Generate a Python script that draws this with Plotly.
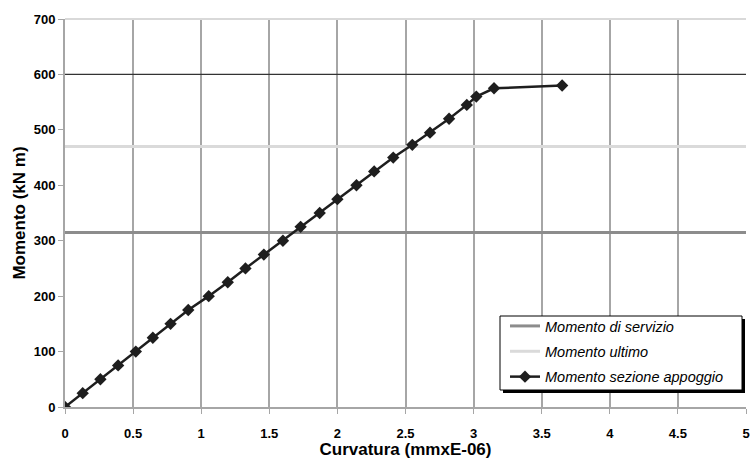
import plotly.graph_objects as go

# Data
curv = [0, 0.13, 0.26, 0.39, 0.52, 0.645, 0.775, 0.905, 1.055, 1.195, 1.325, 1.46, 1.6,
        1.73, 1.87, 2.0, 2.14, 2.27, 2.41, 2.55, 2.68, 2.82, 2.95, 3.02, 3.15, 3.65]
momento = [0, 25, 50, 75, 100, 125, 150, 175, 200, 225, 250, 275, 300,
           325, 350, 375, 400, 425, 450, 473, 495, 520, 545, 560, 575, 580]
x_range = [0, 5]
m_servizio = 315
m_ultimo = 470
m_ref = 600
x_ticks = [0, 0.5, 1, 1.5, 2, 2.5, 3, 3.5, 4, 4.5, 5]
x_ticklabels = ["0", "0.5", "1", "1.5", "2", "2.5", "3", "3.5", "4", "4.5", "5"]
y_ticks = [0, 100, 200, 300, 400, 500, 600, 700]

fig = go.Figure()
fig.add_trace(go.Scatter(x=x_range, y=[m_ref, m_ref], mode="lines",
                         line=dict(color="#333333", width=1.2), showlegend=False, hoverinfo="skip"))
fig.add_trace(go.Scatter(x=x_range, y=[m_servizio, m_servizio], mode="lines", name="Momento di servizio",
                         line=dict(color="#8c8c8c", width=3), legendgroup="a"))
fig.add_trace(go.Scatter(x=x_range, y=[m_ultimo, m_ultimo], mode="lines", name="Momento ultimo",
                         line=dict(color="#dadada", width=3), legendgroup="b"))
fig.add_trace(go.Scatter(x=curv, y=momento, mode="lines+markers", name="Momento sezione appoggio",
                         line=dict(color="#1e1e1e", width=2.5),
                         marker=dict(symbol="diamond", size=9.5, color="#1e1e1e"), legendgroup="c"))

L, R, T, B = 65, 6, 19, 52
W, H = 752, 459
pw, ph = W - L - R, H - T - B

def px(xp):
    return (xp - L) / pw

def py(yp):
    return (H - B - yp) / ph

shapes = [
    dict(type="line", xref="paper", yref="paper", x0=0, x1=1, y0=1, y1=1,
         line=dict(color="#d9d9d9", width=2), layer="above"),
    # legend box shadow and frame
    dict(type="rect", xref="paper", yref="paper", x0=px(503), x1=px(745), y0=py(393), y1=py(319),
         fillcolor="black", line=dict(width=0), layer="above"),
    dict(type="rect", xref="paper", yref="paper", x0=px(500), x1=px(742), y0=py(390), y1=py(316),
         fillcolor="white", line=dict(color="black", width=1), layer="above"),
]

fig.update_layout(
    width=W, height=H,
    margin=dict(l=L, r=R, t=T, b=B),
    paper_bgcolor="white", plot_bgcolor="white",
    font=dict(family="Liberation Sans, Arial, sans-serif", color="black"),
    showlegend=True,
    legend=dict(x=px(505), y=py(310), xanchor="left", yanchor="top",
                bgcolor="rgba(0,0,0,0)", borderwidth=0,
                font=dict(size=14.5, family="Liberation Sans, Arial, sans-serif", style="italic"),
                traceorder="grouped", tracegroupgap=3.5, itemwidth=30),
    shapes=shapes,
    xaxis=dict(range=x_range, tickvals=x_ticks, ticktext=x_ticklabels, automargin=False,
               showgrid=True, gridcolor="#a6a6a6", gridwidth=1.5,
               showline=True, linecolor="#a6a6a6", linewidth=1.5,
               ticks="outside", ticklen=5, tickcolor="#a6a6a6", zeroline=False,
               ticklabelstandoff=9, ticklabeloverflow="allow",
               tickfont=dict(size=13, weight="bold"),
               title=dict(text="Curvatura (mmxE-06)", standoff=1,
                          font=dict(size=17, weight="bold"))),
    yaxis=dict(range=[0, 700], tickvals=y_ticks, showgrid=False, automargin=False,
               showline=True, linecolor="#a6a6a6", linewidth=2,
               ticks="outside", ticklen=5, tickcolor="#a6a6a6", zeroline=False,
               tickfont=dict(size=13, weight="bold"),
               title=dict(text="Momento (kN m)", standoff=4,
                          font=dict(size=17, weight="bold"))),
)

fig.write_html("out.html", config={"displayModeBar": False},
               post_script="document.body.style.margin='0';document.body.style.overflow='hidden';")
